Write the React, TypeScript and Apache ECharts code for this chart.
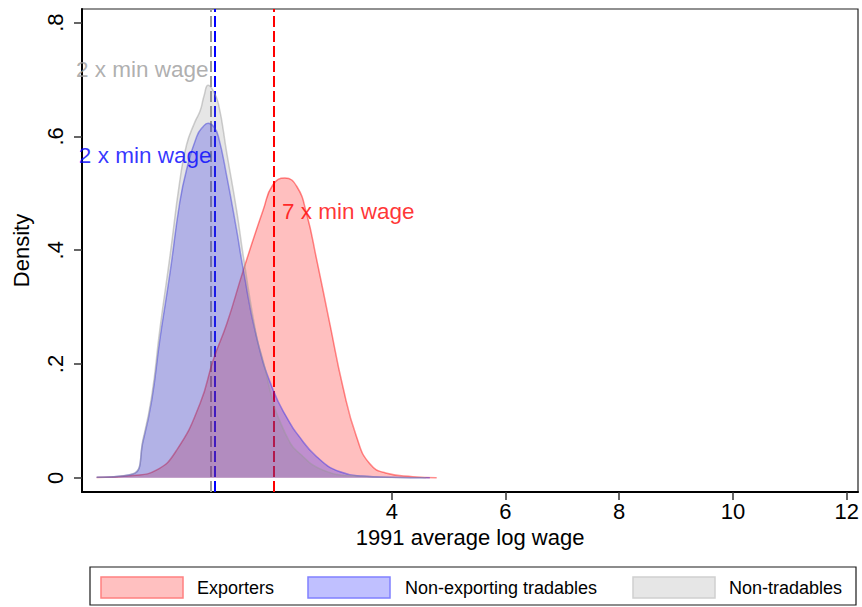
import React, { useEffect, useRef } from "react";
import * as echarts from "echarts";

// ---------- data ----------
const seriesNames = ["Exporters", "Non-exporting tradables", "Non-tradables"];

const exporters: [number, number][] = [
  [-1.19, 0.0005], [-0.55, 0.004], [-0.14, 0.0135], [0.22, 0.049], [0.63, 0.131],
  [0.86, 0.207], [1.1, 0.271], [1.39, 0.365], [1.74, 0.471], [1.91, 0.515],
  [2.12, 0.527], [2.33, 0.512], [2.5, 0.465], [2.68, 0.383], [2.91, 0.271],
  [3.14, 0.16], [3.38, 0.072], [3.61, 0.025], [3.91, 0.008], [4.37, 0.002], [4.79, 0],
];

const nonExporting: [number, number][] = [
  [-1.19, 0.001], [-0.55, 0.0065], [-0.37, 0.066], [-0.22, 0.137], [-0.08, 0.242],
  [0.1, 0.36], [0.27, 0.483], [0.39, 0.541], [0.57, 0.6], [0.68, 0.617], [0.77, 0.623],
  [0.87, 0.617], [0.95, 0.6], [1.1, 0.529], [1.27, 0.436], [1.39, 0.365], [1.62, 0.248],
  [1.91, 0.155], [2.21, 0.096], [2.33, 0.078], [2.68, 0.037], [3.09, 0.0105],
  [3.5, 0.003], [4.0, 0.001], [4.67, 0],
];

const nonTradables: [number, number][] = [
  [-1.19, 0.001], [-0.55, 0.007], [-0.37, 0.07], [-0.22, 0.145], [-0.08, 0.26],
  [0.1, 0.39], [0.27, 0.52], [0.39, 0.585], [0.54, 0.626], [0.63, 0.645], [0.7, 0.672],
  [0.77, 0.69], [0.85, 0.682], [0.95, 0.658], [1.1, 0.57], [1.27, 0.471], [1.39, 0.389],
  [1.62, 0.25], [1.74, 0.205], [1.92, 0.13], [2.03, 0.1], [2.21, 0.062], [2.33, 0.047],
  [2.79, 0.0135], [3.38, 0.003], [4.1, 0.0005], [4.6, 0],
];

// vertical reference lines (x = log of multiple of min wage), same order as series
const thresholds = [1.92, 0.89, 0.82];
const thresholdLabels = ["7 x min wage", "2 x min wage", "2 x min wage"];

const xTicks = [4, 6, 8, 10, 12];
const yTicks = [0, 0.2, 0.4, 0.6, 0.8];

// ---------- styles ----------
const FONT = '"Liberation Sans", Arial, Helvetica, sans-serif';
const fills = ["rgba(255,0,0,0.25)", "rgba(0,0,255,0.25)", "rgba(128,128,128,0.2)"];
const outlines = ["rgba(255,0,0,0.45)", "rgba(40,40,235,0.45)", "rgba(150,150,150,0.45)"];
const refColors = ["#FF0000", "#0000FF", "#9A9A9A"];
const swatchFill = ["#FFC0C0", "#C0C0FF", "#E6E6E6"];
const swatchStroke = ["#FF8080", "#8080FF", "#D0D0D0"];
const labelY = [0.468, 0.567, 0.717];
const labelSide = ["right", "left", "left"];
const labelDist = [8, 3, 2];

export default function App() {
  const ref = useRef<HTMLDivElement>(null);

  useEffect(() => {
    if (!ref.current) return;
    const chart = echarts.init(ref.current, undefined, { renderer: "svg" });
    const curves = [exporters, nonExporting, nonTradables];

    const lineSeries: any[] = curves.map((d, i) => ({
      type: "line",
      name: seriesNames[i],
      data: d,
      showSymbol: false,
      smooth: 0.5,
      z: 2 + i,
      lineStyle: { color: outlines[i], width: 1.5 },
      areaStyle: { color: fills[i], opacity: 1 },
      ...(i === 0
        ? {
            markLine: {
              silent: true,
              z: 1,
              symbol: ["none", "none"],
              label: { show: false },
              data: thresholds.map((t, k) => ({
                xAxis: t,
                lineStyle: { color: refColors[k], width: 2, type: [11, 4] },
              })),
            },
          }
        : {}),
    }));

    const labelSeries: any[] = thresholds.map((t, k) => ({
      type: "scatter",
      z: 20,
      silent: true,
      symbolSize: 1,
      itemStyle: { color: "rgba(0,0,0,0)" },
      data: [[t, labelY[k]]],
      label: {
        show: true,
        position: labelSide[k],
        distance: labelDist[k],
        formatter: thresholdLabels[k],
        color: refColors[k],
        fontSize: 22.5,
        fontFamily: FONT,
      },
    }));

    const legendItems: any[] = [];
    const swX = [101, 308, 633];
    const txX = [197, 405, 729];
    legendItems.push({
      type: "rect",
      shape: { x: 90, y: 567, width: 766, height: 38 },
      style: { fill: "#fff", stroke: "#1a1a1a", lineWidth: 1.2 },
    });
    seriesNames.forEach((n, i) => {
      legendItems.push({
        type: "rect",
        shape: { x: swX[i], y: 577, width: 82, height: 21 },
        style: { fill: swatchFill[i], stroke: swatchStroke[i], lineWidth: 1.5 },
      });
      legendItems.push({
        type: "text",
        x: txX[i],
        y: 588,
        style: {
          text: n,
          fill: "#000",
          font: `18px ${FONT}`,
          textVerticalAlign: "middle",
          verticalAlign: "middle",
        },
      });
    });

    chart.setOption({
      animation: false,
      backgroundColor: "#fff",
      textStyle: { fontFamily: FONT },
      grid: {
        left: 82,
        right: 4,
        top: 9,
        bottom: 115,
        show: true,
        borderColor: "#222",
        borderWidth: 1.2,
        containLabel: false,
      },
      xAxis: {
        type: "value",
        min: -1.448,
        max: 12.2,
        name: "1991 average log wage",
        nameLocation: "middle",
        nameGap: 27,
        nameTextStyle: { fontSize: 22, color: "#000", fontFamily: FONT },
        axisLine: { show: true, onZero: false, lineStyle: { color: "#000", width: 2 } },
        axisTick: {
          show: true,
          length: 8,
          customValues: xTicks,
          lineStyle: { color: "#333", width: 1.5 },
        },
        axisLabel: {
          customValues: xTicks,
          margin: 8,
          fontSize: 22,
          color: "#000",
          fontFamily: FONT,
        },
        splitLine: { show: false },
      },
      yAxis: {
        type: "value",
        min: -0.025,
        max: 0.824,
        name: "Density",
        nameLocation: "middle",
        nameGap: 50,
        nameTextStyle: { fontSize: 22, color: "#000", fontFamily: FONT },
        axisLine: { show: true, onZero: false, lineStyle: { color: "#000", width: 2 } },
        axisTick: {
          show: true,
          length: 8,
          customValues: yTicks,
          lineStyle: { color: "#333", width: 1.5 },
        },
        axisLabel: {
          customValues: yTicks,
          rotate: 90,
          margin: 16,
          fontSize: 22,
          color: "#000",
          fontFamily: FONT,
          formatter: (v: number) => (v === 0 ? "0" : String(+v.toFixed(1)).replace(/^0/, "")),
        },
        splitLine: { show: false },
      },
      graphic: legendItems,
      series: [...lineSeries, ...labelSeries],
    });

    return () => chart.dispose();
  }, []);

  return (
    <div
      ref={ref}
      style={{ position: "fixed", left: 0, top: 0, width: 862, height: 607, background: "#fff" }}
    />
  );
}
